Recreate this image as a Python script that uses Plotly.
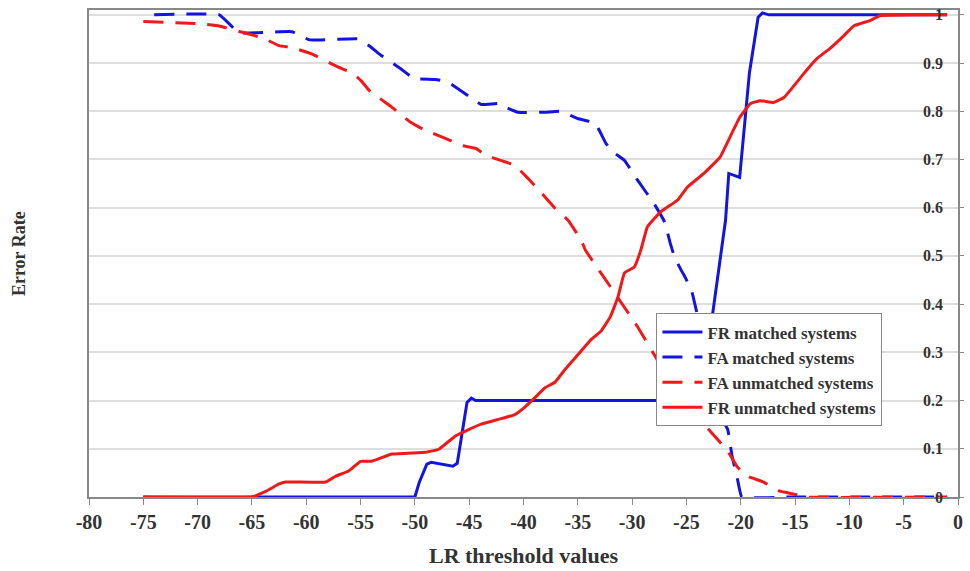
import plotly.graph_objects as go

# ---- data ----
fr_matched_x = [-75, -50, -49.6, -48.9, -48.5, -46.5, -46.1, -45.2, -44.8, -44.4, -23.9, -23.4, -22.6, -21.4, -21.1, -20.1, -19.2, -18.4, -18.0, -17.4, -1]
fr_matched_y = [0, 0, 0.03, 0.068, 0.072, 0.064, 0.07, 0.196, 0.205, 0.2, 0.2, 0.26, 0.378, 0.574, 0.671, 0.663, 0.88, 0.995, 1.004, 1.0, 1.0]

fa_matched_x = [-74, -68, -66.2, -61.3, -59.7, -55.2, -54.2, -53.3, -51.3, -50.1, -48.1, -46.9, -44.9, -43.9, -42.1, -41.6,
                -40.5, -38.0, -36.6, -35.0, -33.4, -32.4, -31.6, -30.7, -29.5, -28.0, -27.0, -26.5, -26.1, -25.5, -25.1,
                -24.5, -24.0, -23.0, -22.2, -21.2, -20.8, -20.3, -19.9, -15.5, -1]
fa_matched_y = [1.0, 1.0, 0.963, 0.965, 0.948, 0.95, 0.936, 0.919, 0.888, 0.868, 0.866, 0.86, 0.829, 0.814, 0.816, 0.808,
                0.798, 0.798, 0.80, 0.785, 0.775, 0.733, 0.713, 0.698, 0.657, 0.609, 0.57, 0.527, 0.498, 0.471, 0.455,
                0.426, 0.378, 0.28, 0.182, 0.14, 0.085, 0.037, 0.0, 0.0, 0.0]

fa_unmatched_x = [-75, -69.5, -68, -66.4, -64, -62.5, -61.3, -59.5, -57.9, -56.7, -55.8, -54.9, -54.2, -52.1, -50.4, -49.0,
                  -47.2, -45.7, -44.4, -43.5, -42.1, -40.8, -39.6, -38.4, -37.1, -35.9, -34.7, -34.3, -32.0, -29.5, -27.7,
                  -25.8, -24.0, -22.4, -21.2, -20.3, -19.4, -17.9, -16.4, -15.1, -14, -1]
fa_unmatched_y = [0.986, 0.981, 0.977, 0.967, 0.952, 0.936, 0.932, 0.919, 0.901, 0.888, 0.88, 0.862, 0.843, 0.808, 0.777, 0.76,
                  0.744, 0.729, 0.723, 0.709, 0.698, 0.688, 0.661, 0.632, 0.599, 0.574, 0.533, 0.512, 0.436, 0.353, 0.285,
                  0.225, 0.167, 0.126, 0.095, 0.062, 0.043, 0.031, 0.012, 0.006, 0.0, 0.0]

fr_unmatched_x = [-75, -65.0, -63.7, -62.5, -61.9, -58.2, -57.3, -56.1, -55.0, -54.0, -52.1, -49.0, -47.8, -46.3, -45.4,
                  -43.9, -42.3, -40.8, -39.9, -38.9, -38.0, -37.1, -36.2, -35.0, -33.8, -32.9, -32.0, -31.3, -30.7, -29.8,
                  -29.2, -28.6, -27.4, -25.8, -24.9, -23.4, -21.9, -21.0, -20.1, -19.1, -18.2, -17.0, -16.0, -14.2, -13.0,
                  -11.8, -10.5, -9.6, -8.1, -7.2, -1]
fr_unmatched_y = [0, 0, 0.012, 0.027, 0.031, 0.031, 0.043, 0.054, 0.074, 0.074, 0.089, 0.093, 0.099, 0.126, 0.136,
                  0.151, 0.161, 0.171, 0.186, 0.207, 0.227, 0.238, 0.264, 0.295, 0.326, 0.343, 0.374, 0.415, 0.465, 0.477,
                  0.512, 0.56, 0.591, 0.616, 0.643, 0.671, 0.705, 0.746, 0.787, 0.816, 0.822, 0.818, 0.829, 0.878, 0.909,
                  0.93, 0.957, 0.977, 0.988, 0.998, 1.0]

x_ticks = list(range(-80, 1, 5))
y_ticks = [0, 0.1, 0.2, 0.3, 0.4, 0.5, 0.6, 0.7, 0.8, 0.9, 1]

BLUE = "#1414e0"
RED = "#f01818"
FONT = "Liberation Serif"

fig = go.Figure()
fig.add_trace(go.Scatter(x=fr_matched_x, y=fr_matched_y, mode="lines", name="<b>FR matched systems</b>",
                         line=dict(color=BLUE, width=3)))
fig.add_trace(go.Scatter(x=fa_matched_x, y=fa_matched_y, mode="lines", name="<b>FA matched systems</b>",
                         line=dict(color=BLUE, width=3, dash="20px,12px", shape="spline", smoothing=0.3)))
fig.add_trace(go.Scatter(x=fa_unmatched_x, y=fa_unmatched_y, mode="lines", name="<b>FA unmatched systems</b>",
                         line=dict(color=RED, width=3, dash="20px,12px", shape="spline", smoothing=0.3)))
fig.add_trace(go.Scatter(x=fr_unmatched_x, y=fr_unmatched_y, mode="lines", name="<b>FR unmatched systems</b>",
                         line=dict(color=RED, width=3, shape="spline", smoothing=0.3)))

fig.update_layout(
    width=970, height=571,
    margin=dict(l=89, r=7, t=10, b=73),
    plot_bgcolor="white", paper_bgcolor="white",
    font=dict(family=FONT, color="#222222"),
    showlegend=True,
    legend=dict(x=0.653, y=0.377, xanchor="left", yanchor="top",
                bgcolor="white", bordercolor="#888888", borderwidth=1,
                font=dict(family=FONT, size=17, color="#333333"),
                itemwidth=40, tracegroupgap=0),
    xaxis=dict(range=[-80, 0], tickvals=x_ticks, ticktext=[f"<b>{v}</b>" for v in x_ticks],
               showgrid=False, zeroline=False,
               showline=True, linecolor="#888888", linewidth=1.5, mirror=True,
               ticks="outside", ticklen=6, tickcolor="#888888",
               tickfont=dict(family=FONT, size=20, color="#333333"),
               title=dict(text="<b>LR threshold values</b>", font=dict(family=FONT, size=22, color="#333333"),
                          standoff=16)),
    yaxis=dict(range=[0, 1.01], tickvals=y_ticks, showticklabels=False,
               side="right",
               showgrid=True, gridcolor="#dedede", gridwidth=1.5, zeroline=False,
               showline=True, linecolor="#888888", linewidth=1.5, mirror=True,
               ticks="outside", ticklen=4, tickcolor="#888888"),
)

# y tick labels drawn inside the plot, just left of the right-hand axis
for v in y_ticks:
    fig.add_annotation(text=f"<b>{v}</b>", xref="paper", yref="y", x=1, y=v,
                       xanchor="right", yanchor="middle", xshift=-13, showarrow=False,
                       font=dict(family=FONT, size=16, color="#333333"))

fig.add_annotation(text="<b>Error Rate</b>", xref="paper", yref="paper", x=-0.081, y=0.5,
                   textangle=-90, showarrow=False, font=dict(family=FONT, size=18, color="#333333"),
                   xanchor="center", yanchor="middle")

fig.write_html("out.html", config={"displayModeBar": False},
               post_script="document.body.style.margin='0';document.body.style.overflow='hidden';")
